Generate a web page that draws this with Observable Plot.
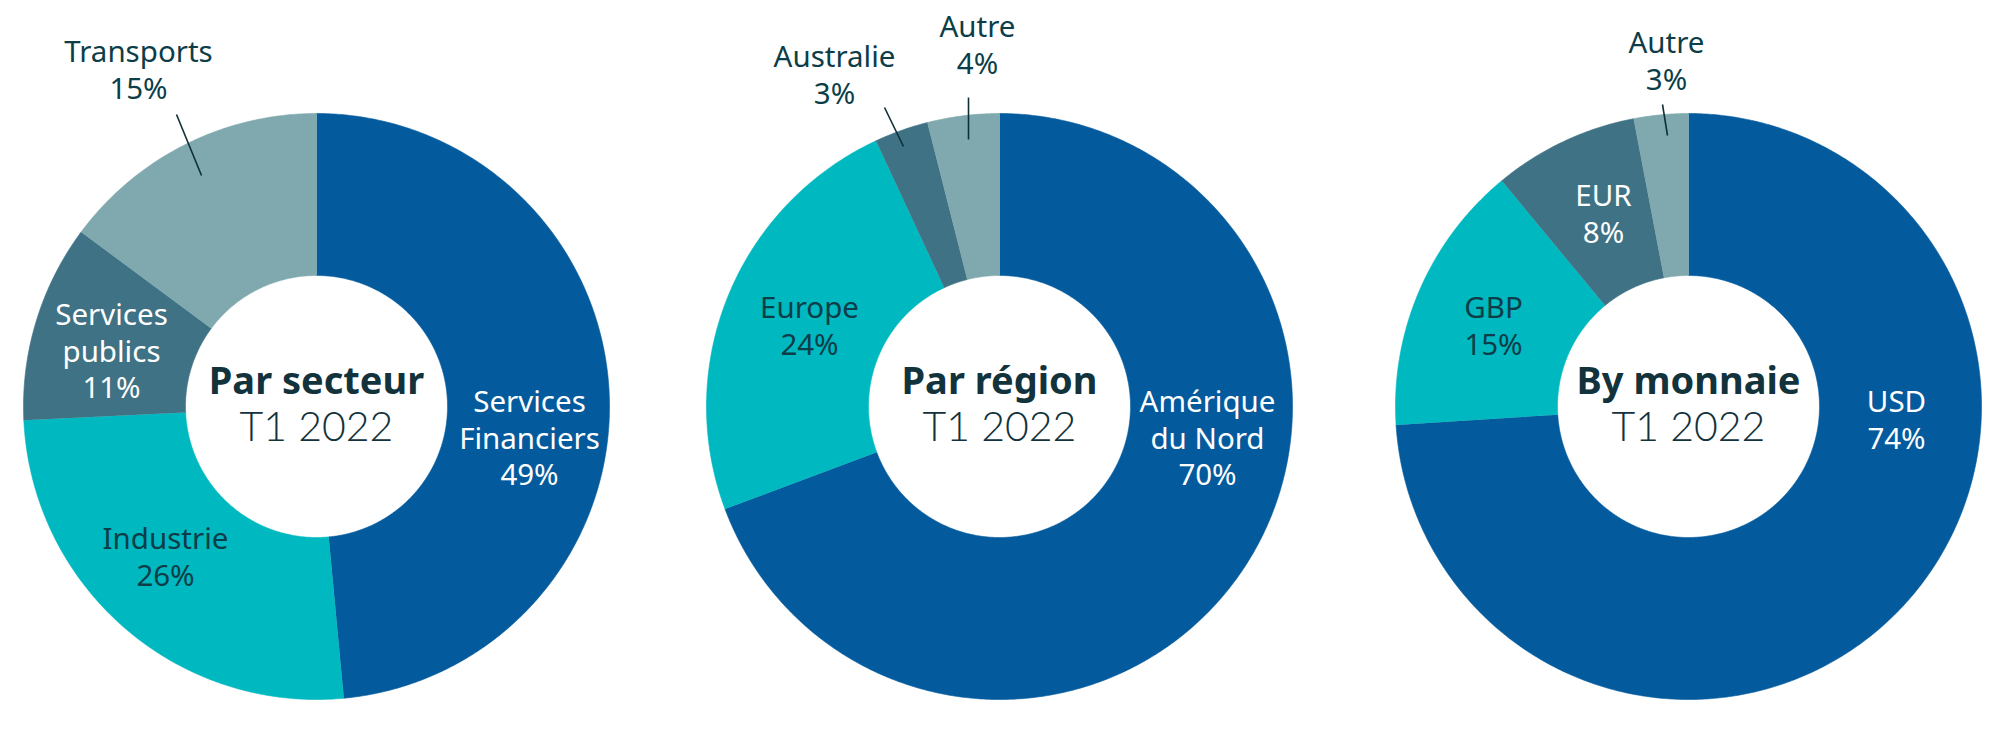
<!DOCTYPE html>
<html>
<head>
<meta charset="utf-8">
<script src="https://cdn.jsdelivr.net/npm/d3@7"></script>
<script src="https://cdn.jsdelivr.net/npm/@observablehq/plot@0.6"></script>
<style>
  html, body { margin: 0; padding: 0; background: #ffffff; }
  #chart svg { display: block; }
</style>
</head>
<body>
<div id="chart"></div>
<script>
// ---------- Data ----------
const sectorLabels   = ["Services\nFinanciers", "Industrie", "Services\npublics", "Transports"];
const sectorValues   = [49, 26, 11, 15];
const regionLabels   = ["Amérique\ndu Nord", "Europe", "Australie", "Autre"];
const regionValues   = [70, 24, 3, 4];
const currencyLabels = ["USD", "GBP", "EUR", "Autre"];
const currencyValues = [74, 15, 8, 3];
const chartTitles    = ["Par secteur", "Par région", "By monnaie"];
const periodLabel    = "T1 2022";

// ---------- Styles / layout ----------
const palette   = ["#035b9d", "#00b8bf", "#3f7284", "#7fa9ae"];
const darkText  = "#0c3d48";
const titleText = "#12323c";
const centersX  = [316, 999, 1688];
const centerY   = 406;
const outerR    = 293;
const innerR    = 131;
const labelSize = 29.5;
const lineH     = 1.25;

// label anchor (center x, first-line baseline, white text?) per chart, per category
const labelLayout = [
  [[529, 406, true], [165, 543, false], [111, 319, true], [138, 56, false]],
  [[1207, 406, true], [809, 312, false], [834, 61, false], [977, 31, false]],
  [[1896, 406, true], [1493, 312, false], [1603, 200, true], [1666, 47, false]]
];
// leader lines [x1, y1, x2, y2]
const leaderLayout = [
  [176, 114, 201, 175],
  [884, 107, 903, 146],
  [968, 97, 968, 139],
  [1662, 104, 1667, 135]
];

// ---------- Build geometry from values ----------
const charts = [
  {labels: sectorLabels, values: sectorValues},
  {labels: regionLabels, values: regionValues},
  {labels: currencyLabels, values: currencyValues}
];

const polys = [];
const labels = [];
charts.forEach((c, k) => {
  const total = d3.sum(c.values);
  const cx = centersX[k];
  let acc = 0;
  c.values.forEach((v, i) => {
    const a0 = acc / total * 2 * Math.PI;
    acc += v;
    const a1 = acc / total * 2 * Math.PI;
    const n = Math.max(4, Math.ceil((a1 - a0) / (Math.PI / 360)));
    const key = k + "-" + i;
    const color = palette[i];
    for (let j = 0; j <= n; j++) {
      const a = a0 + (a1 - a0) * j / n;
      polys.push({key, color, x: cx + outerR * Math.sin(a), y: centerY - outerR * Math.cos(a)});
    }
    for (let j = n; j >= 0; j--) {
      const a = a0 + (a1 - a0) * j / n;
      polys.push({key, color, x: cx + innerR * Math.sin(a), y: centerY - innerR * Math.cos(a)});
    }
    const [lx, lb, white] = labelLayout[k][i];
    labels.push({
      text: c.labels[i] + "\n" + v + "%",
      x: lx,
      y: lb - 0.71 * labelSize,
      fill: white ? "#ffffff" : darkText
    });
  });
});

const leaders = leaderLayout.map(([x1, y1, x2, y2]) => ({x1, y1, x2, y2}));
const titles = chartTitles.map((t, k) => ({text: t, x: centersX[k], y: 393}));
const periods = chartTitles.map((t, k) => ({text: periodLabel, x: centersX[k], y: 440}));

const plot = Plot.plot({
  width: 2000,
  height: 739,
  margin: 0,
  style: {fontFamily: "'Noto Sans', 'Open Sans', sans-serif", background: "#ffffff"},
  x: {domain: [0, 2000], range: [0, 2000], axis: null},
  y: {domain: [0, 739], range: [0, 739], axis: null},
  marks: [
    Plot.line(polys, {x: "x", y: "y", z: "key", fill: "color", stroke: "color", strokeWidth: 0.6, curve: "linear"}),
    Plot.link(leaders, {x1: "x1", y1: "y1", x2: "x2", y2: "y2", stroke: "#0f2f38", strokeWidth: 1.6}),
    Plot.text(labels, {x: "x", y: "y", text: "text", fill: "fill", fontSize: labelSize,
      textAnchor: "middle", lineAnchor: "top", lineHeight: lineH}),
    Plot.text(titles, {x: "x", y: "y", text: "text", fill: titleText, fontSize: 38, fontWeight: 700,
      textAnchor: "middle", lineAnchor: "bottom"}),
    Plot.text(periods, {x: "x", y: "y", text: "text", fill: titleText, fontSize: 41, fontWeight: 300,
      fontFamily: "Lato, 'Noto Sans', sans-serif", textAnchor: "middle", lineAnchor: "bottom"})
  ]
});
document.getElementById("chart").appendChild(plot);
</script>
</body>
</html>
